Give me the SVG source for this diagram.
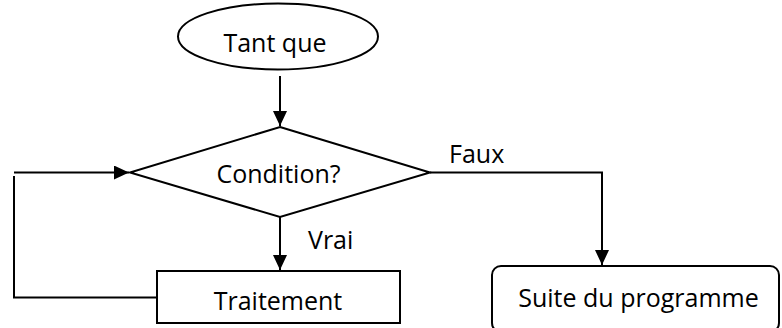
<svg xmlns="http://www.w3.org/2000/svg" width="782" height="328" viewBox="0 0 782 328">
<defs>
<marker id="arrow" viewBox="0 0 15 14" refX="15" refY="7" markerWidth="15" markerHeight="14" markerUnits="userSpaceOnUse" orient="auto">
<path d="M0,0 L15,7 L0,14 z" fill="#000"/>
</marker>
<style>
.shape{fill:#fff;stroke:#000;stroke-width:2}
.line{fill:none;stroke:#000;stroke-width:2}
.arr{marker-end:url(#arrow)}
text{font-family:"Open Sans","Noto Sans","Liberation Sans",sans-serif;font-size:25px;fill:#000}
.c{text-anchor:middle}
</style>
</defs>
<rect width="782" height="328" fill="#fff"/>
<g id="connectors">
<line class="line arr" x1="280" y1="76" x2="280" y2="126"/>
<line class="line arr" x1="280" y1="217" x2="280" y2="270"/>
<polyline class="line arr" points="430,172.5 602,172.5 602,265"/>
<polyline class="line" points="157,297.5 14,297.5 14,176"/>
<line class="line arr" x1="14" y1="172.5" x2="129" y2="172.5"/>
<text x="308" y="249">Vrai</text>
<text x="449" y="163">Faux</text>
</g>
<g id="start">
<ellipse class="shape" cx="278" cy="36.5" rx="100" ry="33"/>
<text class="c" x="275" y="52">Tant que</text>
</g>
<g id="condition">
<polygon class="shape" points="280,127 430,172.5 280,217 130,172.5"/>
<text class="c" x="278.5" y="183">Condition?</text>
</g>
<g id="traitement">
<rect class="shape" x="157" y="271" width="243" height="52"/>
<text class="c" x="278" y="310">Traitement</text>
</g>
<g id="suite">
<rect class="shape" x="492" y="266" width="287" height="66" rx="9" ry="9"/>
<text class="c" x="638.5" y="307">Suite du programme</text>
</g>
</svg>
